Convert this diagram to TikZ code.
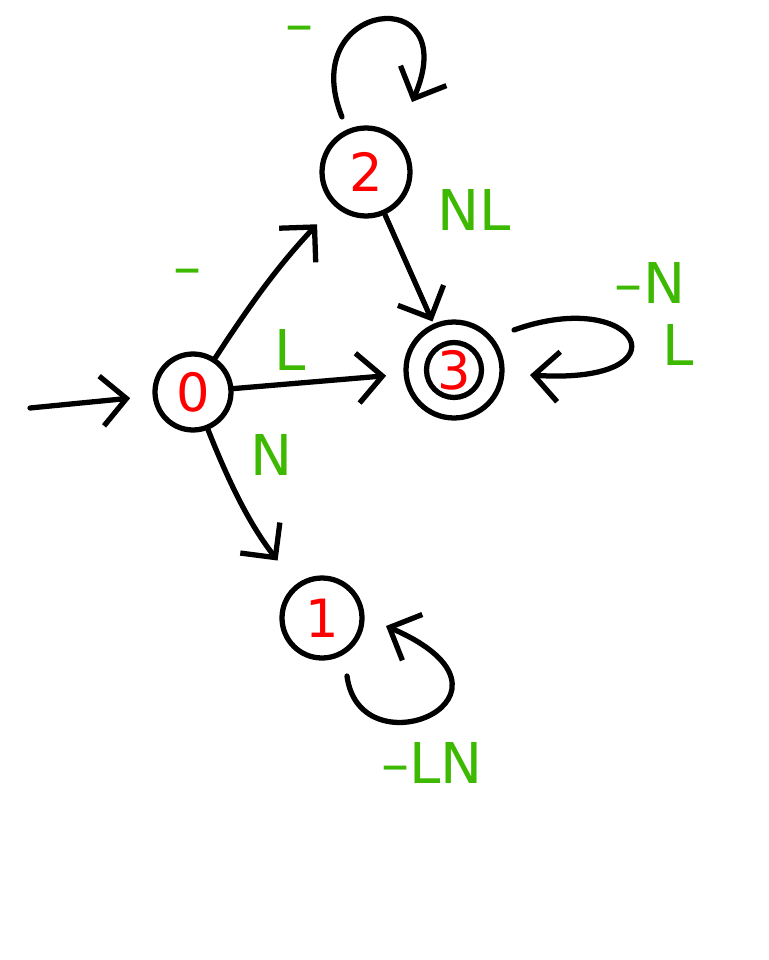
\documentclass[tikz,border=0pt]{standalone}
\usepackage{fontspec}
\setmainfont{DejaVu Sans}
\usetikzlibrary{arrows.meta, positioning}
\definecolor{statered}{RGB}{255,0,0}
\definecolor{labelgreen}{RGB}{60,185,0}

\begin{document}
\begin{tikzpicture}[x=0.02cm, y=-0.02cm,
    state/.style={circle, draw, line width=3pt, inner sep=0pt,
                  text=statered, font=\fontsize{30}{30}\selectfont},
    trans/.style={line width=3pt, line cap=round,
                  -{Straight Barb[length=5mm, width=10mm, line width=3pt]}},
    lbl/.style={text=labelgreen, font=\fontsize{32}{32}\selectfont}]
  \useasboundingbox (0,0) rectangle (768,960);
  % states
  \node[state, minimum size=1.52cm] (q0) at (193,392) {0};
  \node[state, minimum size=1.60cm] (q1) at (322,618) {1};
  \node[state, minimum size=1.76cm] (q2) at (366,172) {2};
  \node[state, minimum size=1.92cm] (q3) at (454,370) {};
  \node[state, minimum size=1.10cm] (q3in) at (q3) {3};
  \coordinate (start) at (30,408);
  % transitions
  \draw[trans, shorten >=0.45cm] (start) -- (q0);
  \draw[trans, shorten >=0.5cm] (q0) to[bend left=5] (q2);
  \draw[trans, shorten >=0.05cm] (q2) -- (q3);
  \draw[trans, shorten >=0.35cm] (q0) -- (q3);
  \draw[trans, shorten >=0.6cm] (q0) to[bend right=8] (q1);
  % loops
  \draw[trans] ([shift={(-24,-55)}]q2.center) .. controls (295,0) and (465,-20)
        .. ([shift={(46,-70)}]q2.center);
  \draw[trans] ([shift={(60,-40)}]q3.center) .. controls (640,285) and (690,385)
        .. ([shift={(76,5)}]q3.center);
  \draw[trans] ([shift={(25,58)}]q1.center) .. controls (360,775) and (545,695)
        .. ([shift={(64,8)}]q1.center);
  % labels
  \node[lbl] (l2) at (300,35) {–};
  \node[lbl] (l02) at (188,278) {–};
  \node[lbl] (l23) at (474,210) {NL};
  \node[lbl] (l03) at (290,350) {L};
  \node[lbl] (l01) at (272,455) {N};
  \node[lbl] (l3a) at (650,283) {–N};
  \node[lbl] (l3b) at (678,345) {L};
  \node[lbl] (l1) at (432,763) {–LN};
\end{tikzpicture}
\end{document}
